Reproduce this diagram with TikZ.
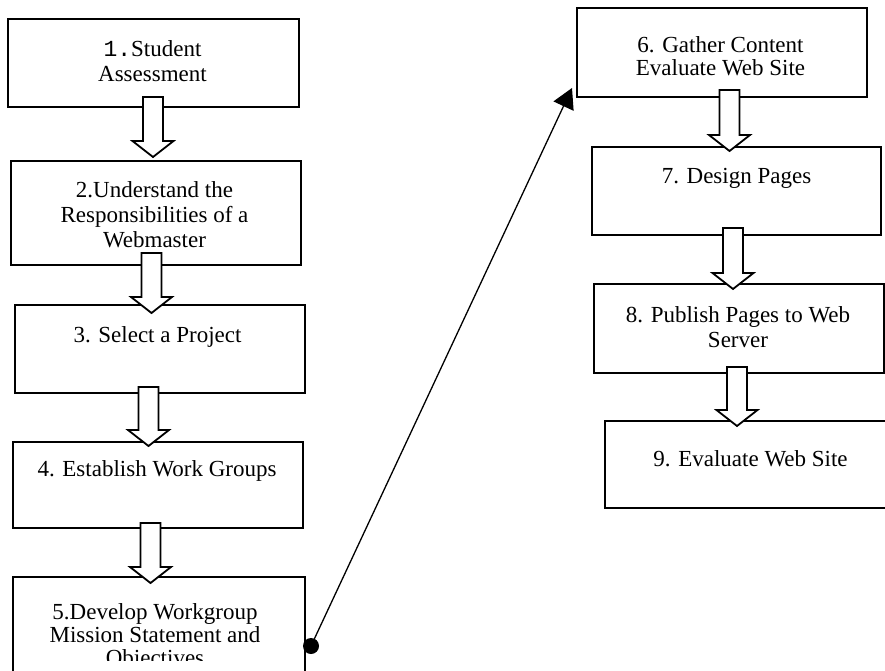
\documentclass[tikz,border=0pt]{standalone}
\usepackage{fontspec}
\setmainfont{Liberation Serif}
\newfontfamily\monof{Liberation Mono}
\usetikzlibrary{arrows.meta,calc}
\newcommand\fl{\rule{0pt}{17pt}}
\newcommand\blockarr[5]{%
 \coordinate (ax) at (#3,0);
 \draw[blk] let \p1=(ax |- #1.south), \p2=(ax |- #2.north),
   \n1={\y1+#4pt}, \n2={\y2-(#5pt)}, \n3={\y2-(#5pt)+16pt} in
 ({\x1-10pt},\n1) -- ({\x1-10pt},\n3) -- ({\x1-20.5pt},\n3) -- (\x1,\n2) -- ({\x1+20.5pt},\n3) -- ({\x1+10pt},\n3) -- ({\x1+10pt},\n1) -- cycle;}
\begin{document}
\begin{tikzpicture}[x=1pt,y=-1pt,
 box/.style={draw,line width=2pt,minimum width=290pt,inner sep=0pt,outer sep=0pt,fill=white},
 lbl/.style={anchor=north,inner sep=0pt,align=center,font={\fontsize{23}{25}\selectfont}},
 tight/.style={font={\fontsize{23}{23}\selectfont}},
 blk/.style={draw,fill=white,line width=1.8pt,line join=miter},
 conn/.style={line width=1.3pt,-{Triangle[length=20pt,width=22pt]}}]
\useasboundingbox (0,0) rectangle (885,670);
\clip (0,0) rectangle (885,670);
\fill[white] (0,0) rectangle (885,670);
% boxes
\node[box,minimum width=291pt,minimum height=88pt] (b1) at (153.5,63) {};
\node[box,minimum height=104pt] (b2) at (156,213) {};
\node[box,minimum height=88pt] (b3) at (160,349) {};
\node[box,minimum height=86pt] (b4) at (158,485) {};
\node[box,minimum width=292pt,minimum height=110pt] (b5) at (159,632) {};
\node[box,minimum height=89pt] (b6) at (722,52.5) {};
\node[box,minimum width=289pt,minimum height=88pt] (b7) at (736.5,191) {};
\node[box,minimum height=89pt] (b8) at (739,328.5) {};
\node[box,minimum height=87pt] (b9) at (750,464.5) {};
% texts
\node[lbl] (t1) at (152.5,39.5) {\fl{\monof 1.}Student\\Assessment};
\node[lbl] (t2) at (154.5,180) {\fl 2.Understand the\\Responsibilities of a\\Webmaster};
\node[lbl] (t3) at (157.5,325) {\fl 3. Select a Project};
\node[lbl] (t4) at (157,459) {\fl 4. Establish Work Groups};
\begin{scope}
\clip (0,0) rectangle (885,660);
\node[lbl,tight] (t5) at (155,602) {\fl 5.Develop Workgroup\\Mission Statement and\\Objectives};
\end{scope}
\node[lbl,tight] (t6) at (720.5,35) {\fl 6. Gather Content\\Evaluate Web Site};
\node[lbl] (t7) at (736.5,166) {\fl 7. Design Pages};
\node[lbl] (t8) at (738,305) {\fl 8. Publish Pages to Web\\Server};
\node[lbl] (t9) at (750.5,449) {\fl 9. Evaluate Web Site};
% block arrows (last argument: how far the tip reaches below the top of the target box; minus = above)
\blockarr{b1}{b2}{153}{10}{-4}
\blockarr{b2}{b3}{151.5}{12}{8}
\blockarr{b3}{b4}{148.5}{6}{4}
\blockarr{b4}{b5}{150.5}{5}{6}
\blockarr{b6}{b7}{729.5}{7}{4}
\blockarr{b7}{b8}{733}{7}{5}
\blockarr{b8}{b9}{737}{6}{5}
% connector
\node[circle,fill=black,inner sep=0pt,minimum size=16pt] (dot) at (311,646) {};
\coordinate (arrtip) at (572,88);
\draw[conn] (dot.center) -- (arrtip);
\end{tikzpicture}
\end{document}
